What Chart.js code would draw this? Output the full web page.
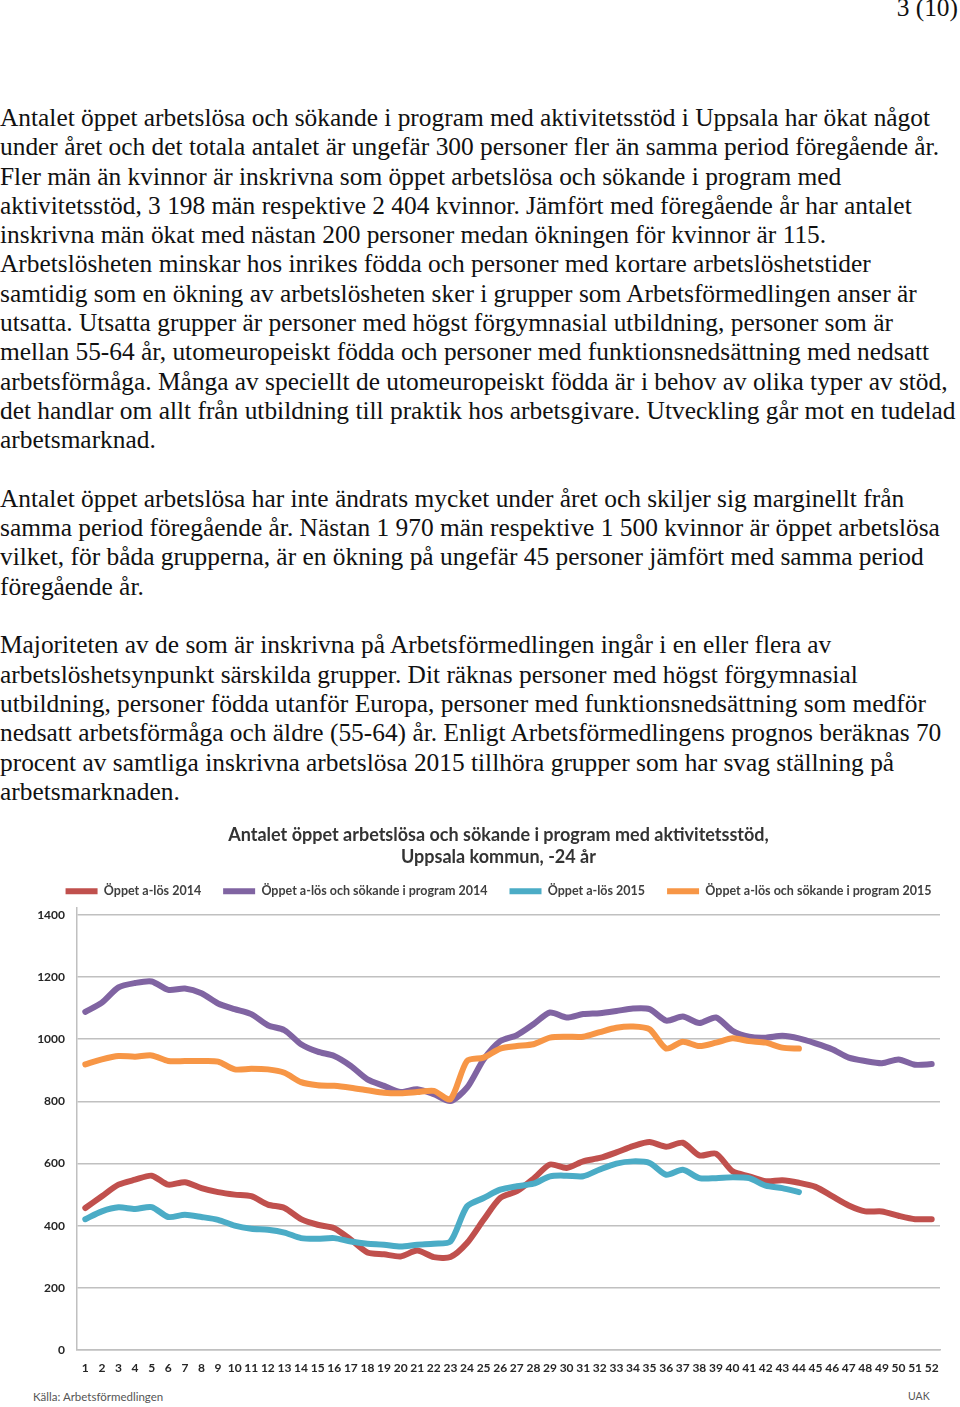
<!DOCTYPE html>
<html lang="sv">
<head>
<meta charset="utf-8">
<title>Antalet öppet arbetslösa och sökande i program med aktivitetsstöd</title>
<script src="https://cdn.jsdelivr.net/npm/chart.js@4.4.1/dist/chart.umd.min.js"></script>
<style>
  * { margin: 0; padding: 0; box-sizing: border-box; }
  body {
    width: 960px;
    height: 1407px;
    overflow: hidden;
    position: relative;
    background: #fff;
    color: #111;
    font-family: "Liberation Serif", "Times New Roman", serif;
  }
  .pagenr {
    position: absolute;
    right: 2px;
    top: -7px;
    font-size: 25.4px;
    line-height: 29.3px;
  }
  .text {
    position: absolute;
    left: 0;
    top: 103px;
    font-size: 25.4px;
    line-height: 29.3px;
    white-space: nowrap;
  }
  .text p { margin-bottom: 29.3px; }
  .chart-box {
    position: absolute;
    left: 0;
    top: 815px;
    width: 960px;
    height: 575px;
  }
  .source {
    position: absolute;
    font-family: Lato, "Open Sans", sans-serif;
    font-size: 11.5px;
    color: #555;
  }
</style>
</head>
<body>
<div class="pagenr">3 (10)</div>

<div class="text">
  <p>Antalet öppet arbetslösa och sökande i program med aktivitetsstöd i Uppsala har ökat något<br>
  under året och det totala antalet är ungefär 300 personer fler än samma period föregående år.<br>
  Fler män än kvinnor är inskrivna som öppet arbetslösa och sökande i program med<br>
  aktivitetsstöd, 3 198 män respektive 2 404 kvinnor. Jämfört med föregående år har antalet<br>
  inskrivna män ökat med nästan 200 personer medan ökningen för kvinnor är 115.<br>
  Arbetslösheten minskar hos inrikes födda och personer med kortare arbetslöshetstider<br>
  samtidig som en ökning av arbetslösheten sker i grupper som Arbetsförmedlingen anser är<br>
  utsatta. Utsatta grupper är personer med högst förgymnasial utbildning, personer som är<br>
  mellan 55-64 år, utomeuropeiskt födda och personer med funktionsnedsättning med nedsatt<br>
  arbetsförmåga. Många av speciellt de utomeuropeiskt födda är i behov av olika typer av stöd,<br>
  det handlar om allt från utbildning till praktik hos arbetsgivare. Utveckling går mot en tudelad<br>
  arbetsmarknad.</p>
  <p>Antalet öppet arbetslösa har inte ändrats mycket under året och skiljer sig marginellt från<br>
  samma period föregående år. Nästan 1 970 män respektive 1 500 kvinnor är öppet arbetslösa<br>
  vilket, för båda grupperna, är en ökning på ungefär 45 personer jämfört med samma period<br>
  föregående år.</p>
  <p>Majoriteten av de som är inskrivna på Arbetsförmedlingen ingår i en eller flera av<br>
  arbetslöshetsynpunkt särskilda grupper. Dit räknas personer med högst förgymnasial<br>
  utbildning, personer födda utanför Europa, personer med funktionsnedsättning som medför<br>
  nedsatt arbetsförmåga och äldre (55-64) år. Enligt Arbetsförmedlingens prognos beräknas 70<br>
  procent av samtliga inskrivna arbetslösa 2015 tillhöra grupper som har svag ställning på<br>
  arbetsmarknaden.</p>
</div>

<div class="chart-box"><canvas id="chart"></canvas></div>
<div class="source" style="left:33px; top:1390px;">Källa: Arbetsförmedlingen</div>
<div class="source" style="left:908px; top:1390px; font-size:10.5px;">UAK</div>

<script>
  // veckor 1-52
  const weeks = [];
  for (let w = 1; w <= 52; w++) weeks.push(w);

  const seriesNames = [
    "Öppet a-lös 2014",
    "Öppet a-lös och sökande i program 2014",
    "Öppet a-lös 2015",
    "Öppet a-lös och sökande i program 2015"
  ];

  const openUnemployed2014 = [
    457, 495, 532, 548, 561, 532, 540, 521, 508, 500, 495, 468, 457,
    421, 403, 392, 355, 314, 308, 301, 320, 299, 299, 344, 419, 489,
    511, 551, 597, 586, 607, 618, 636, 656, 669, 654, 667, 626, 632,
    575, 559, 543, 546, 538, 525, 495, 465, 446, 446, 432, 421, 421
  ];
  const withProgram2014 = [
    1088, 1118, 1167, 1181, 1186, 1159, 1163, 1148, 1115, 1097, 1081, 1045, 1029,
    984, 960, 946, 914, 871, 850, 830, 839, 823, 801, 844, 935, 994,
    1013, 1048, 1086, 1070, 1081, 1084, 1091, 1099, 1097, 1060, 1073, 1052, 1070,
    1027, 1008, 1005, 1011, 1003, 987, 968, 941, 930, 923, 935, 918, 920
  ];
  const openUnemployed2015 = [
    421, 446, 459, 454, 460, 428, 435, 428, 419, 400, 390, 387, 378,
    360, 358, 360, 349, 342, 339, 333, 339, 342, 349, 462, 489, 516,
    527, 535, 559, 561, 559, 581, 600, 607, 602, 564, 580, 553, 553,
    556, 553, 529, 521, 508
  ];
  const withProgram2015 = [
    919, 935, 946, 944, 948, 930, 930, 930, 928, 903, 905, 903, 892,
    862, 852, 850, 844, 836, 828, 826, 830, 834, 807, 930, 941, 970,
    978, 984, 1005, 1008, 1008, 1023, 1037, 1041, 1032, 970, 992, 978, 989,
    1003, 994, 989, 973, 970
  ];

  const yTicks = [0, 200, 400, 600, 800, 1000, 1200, 1400];

  const colors = ["#c0504d", "#8064a2", "#4bacc6", "#f79646"];
  const values = [openUnemployed2014, withProgram2014, openUnemployed2015, withProgram2015];

  const datasets = values.map((v, i) => ({
    label: seriesNames[i],
    data: v,
    borderColor: colors[i],
    backgroundColor: colors[i],
    borderWidth: 6,
    pointRadius: 0,
    tension: 0.25,
    borderCapStyle: "round",
    borderJoinStyle: "round",
    fill: false,
    order: 3 - i
  }));

  const axisFont = { family: "Lato, 'Open Sans', sans-serif", size: 12, weight: "bold" };

  new Chart(document.getElementById("chart"), {
    type: "line",
    data: { labels: weeks, datasets: datasets },
    options: {
      responsive: true,
      maintainAspectRatio: false,
      animation: false,
      layout: { padding: { left: 37, right: 0, top: 0, bottom: 0 } },
      plugins: {
        tooltip: { enabled: false },
        title: {
          display: true,
          text: ["Antalet öppet arbetslösa och sökande i program med aktivitetsstöd,", "Uppsala kommun, -24 år"],
          color: "#333",
          font: { family: "Lato, 'Open Sans', sans-serif", size: 18, weight: "bold", lineHeight: 1.222 },
          padding: { top: 9, bottom: -5 }
        },
        legend: {
          position: "top",
          labels: {
            color: "#404040",
            font: { family: "Lato, 'Open Sans', sans-serif", size: 12.5, weight: "bold" },
            boxWidth: 32,
            boxHeight: 6,
            padding: 22,
            sort: (a, b) => a.datasetIndex - b.datasetIndex,
            generateLabels: (chart) =>
              Chart.defaults.plugins.legend.labels.generateLabels(chart).map(l => {
                l.fillStyle = l.strokeStyle;
                l.lineWidth = 0;
                return l;
              })
          }
        }
      },
      scales: {
        x: {
          offset: true,
          grid: { display: false, drawTicks: false },
          border: { color: "#c0c0c0", width: 1.5 },
          ticks: {
            color: "#262626",
            font: axisFont,
            autoSkip: false,
            maxRotation: 0,
            padding: 11
          },
          afterFit: (s) => { s.height = 40; }
        },
        y: {
          min: 0,
          max: 1424,
          grid: { color: "#c0c0c0", lineWidth: 1.5, drawTicks: false },
          border: { color: "#c0c0c0", width: 1.5 },
          ticks: {
            stepSize: 200,
            color: "#262626",
            font: axisFont,
            padding: 12,
            callback: (v) => String(v)
          },
          afterBuildTicks: (s) => {
            s.ticks = yTicks.map(v => ({ value: v }));
          },
          afterFit: (s) => { s.width = 40; }
        },
        y2: {
          position: "right",
          grid: { display: false },
          border: { display: false },
          ticks: { display: false },
          afterFit: (s) => { s.width = 20; }
        }
      }
    }
  });
</script>
</body>
</html>
